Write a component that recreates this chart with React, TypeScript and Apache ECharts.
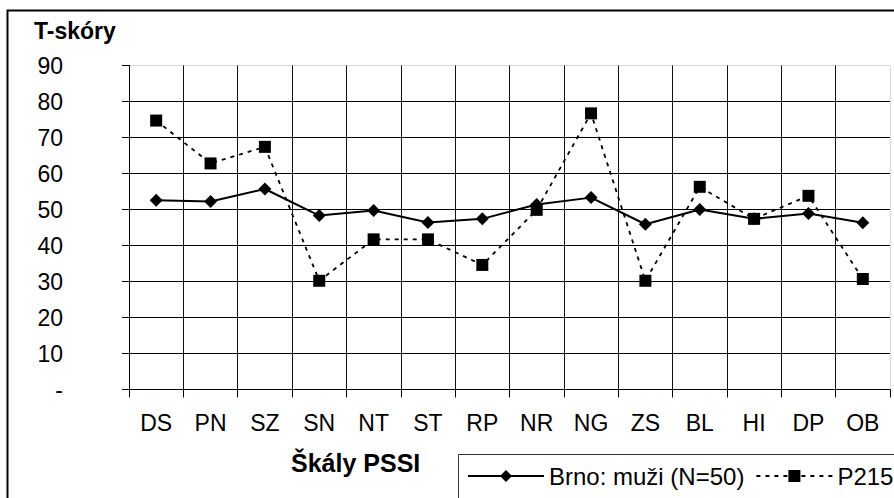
import React, { useEffect, useRef } from "react";
import * as echarts from "echarts";

const categories = ["DS", "PN", "SZ", "SN", "NT", "ST", "RP", "NR", "NG", "ZS", "BL", "HI", "DP", "OB"];
const brnoMuzi = [52.6, 52.2, 55.7, 48.3, 49.7, 46.4, 47.4, 51.4, 53.3, 45.9, 50.0, 47.4, 48.9, 46.3];
const p215 = [74.7, 62.8, 67.4, 30.2, 41.7, 41.7, 34.6, 49.9, 76.7, 30.2, 56.3, 47.4, 53.8, 30.7];
const seriesNames = ["Brno: muži (N=50)", "P215"];
const yAxisTitle = "T-skóry";
const xAxisTitle = "Škály PSSI";

const FONT = "'Liberation Sans', Arial, sans-serif";

export default function App() {
  const ref = useRef<HTMLDivElement>(null);
  useEffect(() => {
    if (!ref.current) return;
    const chart = echarts.init(ref.current, null, { renderer: "svg" });
    const ySplitColors = Array.from({ length: 10 }, (_, i) => (i === 9 ? "#d8d8d8" : "#000"));
    const xSplitColors = Array.from({ length: 15 }, (_, i) => (i === 14 ? "#d8d8d8" : "#111"));
    chart.setOption({
      animation: false,
      backgroundColor: "#fff",
      textStyle: { fontFamily: FONT, color: "#000" },
      grid: { left: 129, top: 65.5, width: 761, height: 324, containLabel: false },
      xAxis: {
        type: "category",
        data: categories,
        boundaryGap: true,
        axisLine: { show: true, lineStyle: { color: "#000", width: 1 } },
        axisTick: { show: true, length: 8, alignWithLabel: false, lineStyle: { color: "#000" } },
        axisLabel: { color: "#000", fontSize: 23, fontFamily: FONT, margin: 22, interval: 0 },
        splitLine: { show: true, lineStyle: { color: xSplitColors, width: 1 } },
      },
      yAxis: {
        type: "value",
        min: 0,
        max: 90,
        interval: 10,
        axisLine: { show: true, lineStyle: { color: "#000", width: 1 } },
        axisTick: { show: true, length: 7, lineStyle: { color: "#000" } },
        axisLabel: {
          color: "#000",
          fontSize: 23,
          fontFamily: FONT,
          margin: 66,
          padding: [0, 0, 6, 0],
          formatter: (v: number) => (v === 0 ? "-" : String(v)),
        },
        splitLine: { show: true, lineStyle: { color: ySplitColors, width: 1 } },
      },
      legend: {
        show: true,
        left: 467,
        top: 464,
        padding: 0,
        itemWidth: 76,
        itemHeight: 15,
        itemGap: 11,
        textStyle: { color: "#000", fontSize: 24, fontFamily: FONT },
        data: seriesNames,
      },
      graphic: [
        {
          type: "rect",
          shape: { x: 7.5, y: 10.5, width: 1000, height: 1000 },
          style: { fill: "none", stroke: "#000", lineWidth: 2 },
          silent: true,
        },
        {
          type: "rect",
          shape: { x: 458.5, y: 454.5, width: 600, height: 100 },
          style: { fill: "none", stroke: "#333", lineWidth: 1 },
          silent: true,
        },
        {
          type: "text",
          left: 34,
          top: 19,
          style: { text: yAxisTitle, font: `bold 23px ${FONT}`, fill: "#000" },
        },
        {
          type: "text",
          left: 291,
          top: 450,
          style: { text: xAxisTitle, font: `bold 25px ${FONT}`, fill: "#000" },
        },
      ],
      series: [
        {
          name: seriesNames[0],
          type: "line",
          data: brnoMuzi,
          symbol: "diamond",
          symbolSize: 13,
          lineStyle: { color: "#000", width: 2, type: "solid" },
          itemStyle: { color: "#000" },
          z: 2,
        },
        {
          name: seriesNames[1],
          type: "line",
          data: p215,
          symbol: "rect",
          symbolSize: 12,
          lineStyle: { color: "#000", width: 1.8, type: [4, 5] },
          itemStyle: { color: "#000" },
          z: 3,
        },
      ],
    });
    return () => chart.dispose();
  }, []);
  return (
    <div
      ref={ref}
      style={{ position: "fixed", left: 0, top: 0, width: 894, height: 498, background: "#fff" }}
    />
  );
}
